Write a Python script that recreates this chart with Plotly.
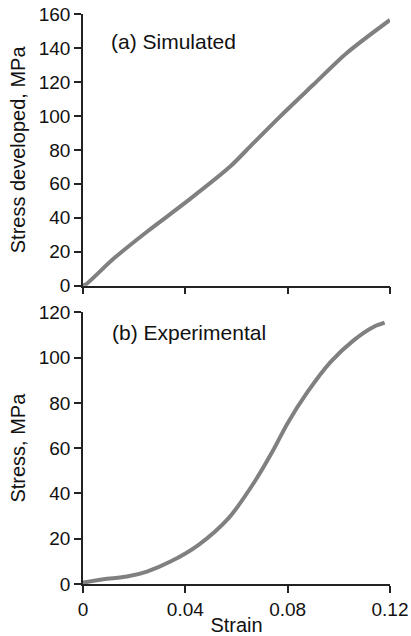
import plotly.graph_objects as go
from plotly.subplots import make_subplots

# (a) Simulated
sim_strain = [0, 0.0013, 0.012, 0.025, 0.0405, 0.0574, 0.0665, 0.077, 0.09, 0.103, 0.12]
sim_stress = [0, 1, 16, 31.8, 49.5, 70, 83.8, 99.6, 118.3, 136.9, 156.5]

# (b) Experimental
exp_strain = [0, 0.008, 0.0172, 0.025, 0.0342, 0.0452, 0.057, 0.0668, 0.0746, 0.0798,
              0.0877, 0.0968, 0.1059, 0.1137, 0.1179]
exp_stress = [0.6, 2.1, 3.3, 5.5, 9.9, 17.3, 29.2, 44.7, 59.6, 70.7,
              84.7, 98.1, 107.7, 113.6, 115.4]

x_ticks = [0, 0.04, 0.08, 0.12]
x_ticklabels = ["0", "0.04", "0.08", "0.12"]
sim_yticks = [0, 20, 40, 60, 80, 100, 120, 140, 160]
exp_yticks = [0, 20, 40, 60, 80, 100, 120]

FONT = "Liberation Sans, Arial, sans-serif"
LINE = "#808080"
TXT = "#111"

fig = make_subplots(rows=2, cols=1)

fig.add_trace(go.Scatter(x=sim_strain, y=sim_stress, mode="lines",
                         line=dict(color=LINE, width=4, shape="spline", smoothing=0.8),
                         showlegend=False), row=1, col=1)
fig.add_trace(go.Scatter(x=exp_strain, y=exp_stress, mode="lines",
                         line=dict(color=LINE, width=4, shape="spline", smoothing=0.8),
                         showlegend=False), row=2, col=1)

axis_common = dict(showline=True, linecolor="#222", linewidth=1.5, ticks="outside",
                   ticklen=7, tickwidth=1.5, tickcolor="#222", showgrid=False,
                   zeroline=False, automargin=False, ticklabeloverflow="allow",
                   tickfont=dict(size=19, color=TXT, family=FONT))

fig.update_xaxes(range=[0, 0.12], tickvals=x_ticks, ticktext=x_ticklabels, **axis_common)
fig.update_xaxes(showticklabels=False, row=1, col=1)
fig.update_xaxes(title=dict(text="Strain", font=dict(size=20, color=TXT, family=FONT),
                            standoff=0), row=2, col=1)

fig.update_yaxes(**axis_common)
fig.update_yaxes(range=[0, 160], tickvals=sim_yticks,
                 title=dict(text="Stress developed, MPa",
                            font=dict(size=20, color=TXT, family=FONT), standoff=8),
                 row=1, col=1)
fig.update_yaxes(range=[0, 120], tickvals=exp_yticks,
                 title=dict(text="Stress, MPa",
                            font=dict(size=20, color=TXT, family=FONT), standoff=8),
                 row=2, col=1)

fig.update_layout(
    width=411, height=636,
    margin=dict(l=83, r=21, t=14, b=52),
    paper_bgcolor="white", plot_bgcolor="white",
    font=dict(family=FONT, color=TXT),
    yaxis=dict(domain=[0.5233, 1.0]),
    yaxis2=dict(domain=[0.0, 0.4767]),
    annotations=[
        dict(text="(a) Simulated", xref="x", yref="y", x=0.0102, y=144,
             xanchor="left", yanchor="middle", showarrow=False,
             font=dict(size=21, color=TXT, family=FONT)),
        dict(text="(b) Experimental", xref="x2", yref="y2", x=0.0105, y=111,
             xanchor="left", yanchor="middle", showarrow=False,
             font=dict(size=21, color=TXT, family=FONT)),
    ],
)

# remove the browser's default 8px body margin so the figure fills the window exactly
fig.write_html("out.html", config={"displayModeBar": False},
               post_script="document.body.style.margin='0';")
